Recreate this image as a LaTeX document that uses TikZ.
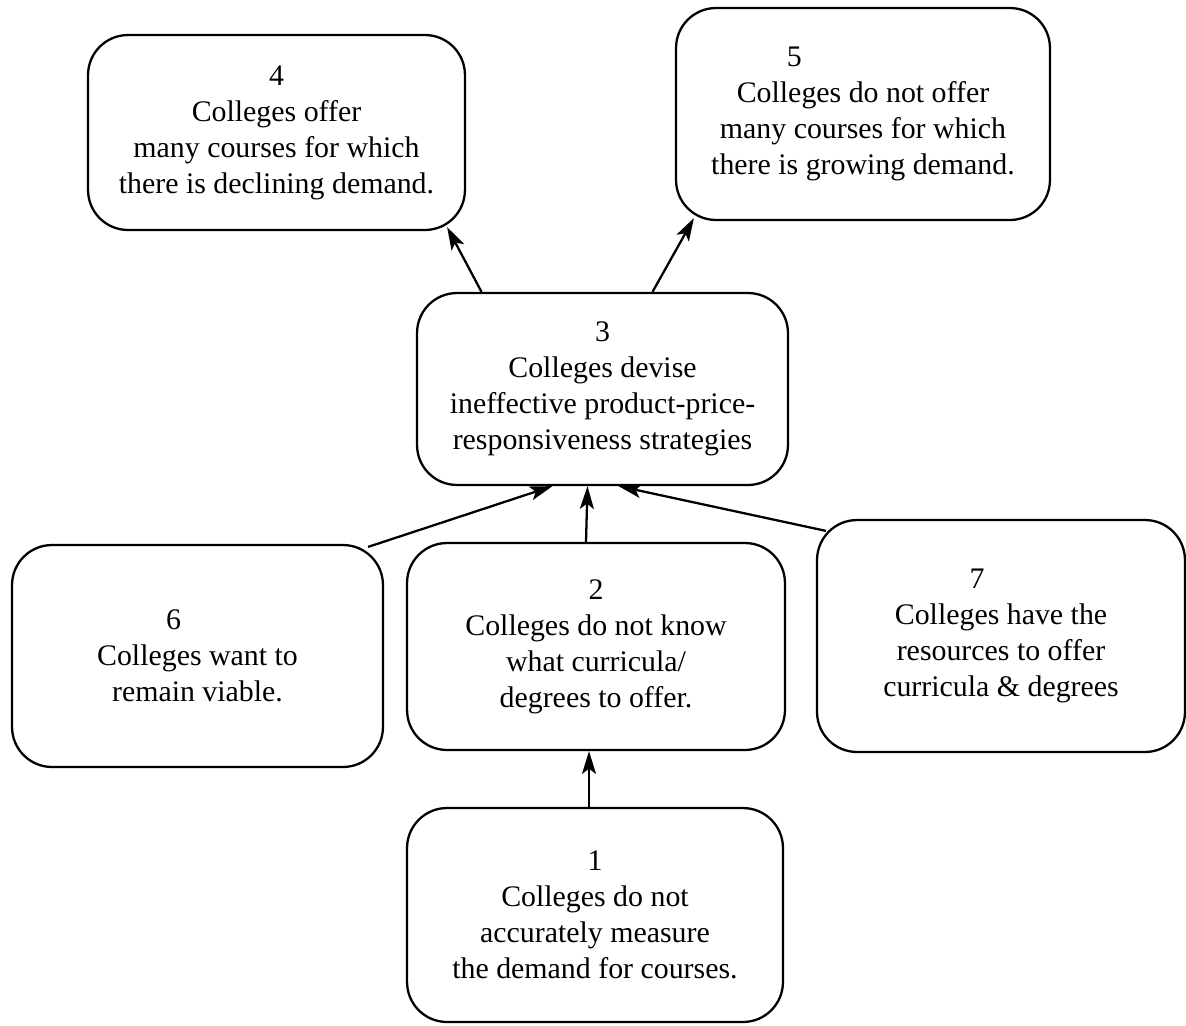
\documentclass[tikz,border=0pt]{standalone}
\usepackage{fontspec}
\setmainfont{Liberation Serif}
\usetikzlibrary{calc,arrows.meta}

\begin{document}
\begin{tikzpicture}[>={Stealth[length=13pt,width=8pt,inset=3pt]},x=0.02cm,y=-0.02cm,
  box/.style={draw,line width=1.3pt,rounded corners=0.8cm,align=center,inner sep=0pt,font=\fontsize{17}{20.5}\selectfont},
  link/.style={->,line width=1.3pt}]
  \useasboundingbox (0,0) rectangle (1186,1025);
  % Top row
  \node[box,minimum width=7.54cm,minimum height=3.9cm] (b4) at (276.5,132.5)
    {4\\Colleges offer\\many courses for which\\there is declining demand.};
  \node[box,minimum width=7.48cm,minimum height=4.24cm] (b5) at (863,114)
    {5\hspace*{4.6em}\\Colleges do not offer\\many courses for which\\there is growing demand.};
  % Middle
  \node[box,minimum width=7.42cm,minimum height=3.84cm] (b3) at (602.5,389)
    {3\\Colleges devise\\ineffective product-price-\\responsiveness strategies};
  % Causes
  \node[box,minimum width=7.42cm,minimum height=4.44cm] (b6) at (197.5,656)
    {6\hspace*{1.6em}\\Colleges want to\\remain viable.};
  \node[box,minimum width=7.56cm,minimum height=4.14cm] (b2) at (596,646.5)
    {2\\Colleges do not know\\what curricula/\\degrees to offer.};
  \node[box,minimum width=7.36cm,minimum height=4.64cm] (b7) at (1001,636)
    {7\hspace*{1.6em}\\Colleges have the\\resources to offer\\curricula \& degrees};
  \node[box,minimum width=7.52cm,minimum height=4.28cm] (b1) at (595,915)
    {1\\Colleges do not\\accurately measure\\the demand for courses.};
  % Arrows
  \draw[link] ($(b3.north)+(-121,0)$) -- ($(b4.south east)+(-19,-4)$);
  \draw[link] ($(b3.north)+(50,0)$) -- ($(b5.south west)+(19,-3)$);
  \draw[link] ($(b6.north east)+(-16,3)$) -- ($(b3.south)+(-50,0)$);
  \draw[link] ($(b2.north)+(-10,0)$) -- ($(b3.south)+(-15,0)$);
  \draw[link] ($(b7.north west)+(10,12)$) -- ($(b3.south)+(16,0)$);
  \draw[link] ($(b1.north)+(-6,0)$) -- ($(b2.south)+(-7,0)$);
\end{tikzpicture}
\end{document}
